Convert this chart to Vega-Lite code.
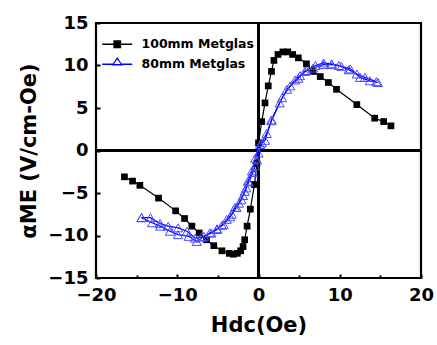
{
  "$schema": "https://vega.github.io/schema/vega-lite/v6.json",
  "width": 325,
  "height": 255,
  "autosize": {"type": "none"},
  "padding": {"left": 96, "top": 23, "right": 16, "bottom": 67},
  "background": "white",
  "config": {
    "view": {"stroke": "black", "strokeWidth": 2.2},
    "font": "DejaVu Sans",
    "axis": {
      "labelFont": "DejaVu Sans", "labelFontWeight": "bold", "labelFontSize": 18, "labelColor": "black",
      "titleFont": "DejaVu Sans", "titleFontWeight": "bold", "titleFontSize": 21, "titleColor": "black",
      "grid": false, "domain": false, "tickColor": "black", "tickWidth": 2, "labelFlush": false
    }
  },
  "data": {"values": [
    {"series": "100mm Metglas", "branch": "a", "i": 1, "H": -16.5, "alpha": -3.1},
    {"series": "100mm Metglas", "branch": "a", "i": 2, "H": -15.5, "alpha": -3.6},
    {"series": "100mm Metglas", "branch": "a", "i": 3, "H": -14.6, "alpha": -4.1},
    {"series": "100mm Metglas", "branch": "a", "i": 4, "H": -12.3, "alpha": -5.6},
    {"series": "100mm Metglas", "branch": "a", "i": 5, "H": -10.2, "alpha": -7.1},
    {"series": "100mm Metglas", "branch": "a", "i": 6, "H": -9.1, "alpha": -8.0},
    {"series": "100mm Metglas", "branch": "a", "i": 7, "H": -8.2, "alpha": -8.9},
    {"series": "100mm Metglas", "branch": "a", "i": 8, "H": -7.3, "alpha": -9.7},
    {"series": "100mm Metglas", "branch": "a", "i": 9, "H": -6.4, "alpha": -10.5},
    {"series": "100mm Metglas", "branch": "a", "i": 10, "H": -5.5, "alpha": -11.2},
    {"series": "100mm Metglas", "branch": "a", "i": 11, "H": -4.5, "alpha": -11.8},
    {"series": "100mm Metglas", "branch": "a", "i": 12, "H": -3.6, "alpha": -12.1},
    {"series": "100mm Metglas", "branch": "a", "i": 13, "H": -3.1, "alpha": -12.2},
    {"series": "100mm Metglas", "branch": "a", "i": 14, "H": -2.6, "alpha": -12.1},
    {"series": "100mm Metglas", "branch": "a", "i": 15, "H": -2.2, "alpha": -11.8},
    {"series": "100mm Metglas", "branch": "a", "i": 16, "H": -1.9, "alpha": -11.3},
    {"series": "100mm Metglas", "branch": "a", "i": 17, "H": -1.7, "alpha": -10.5},
    {"series": "100mm Metglas", "branch": "a", "i": 18, "H": -1.4, "alpha": -8.9},
    {"series": "100mm Metglas", "branch": "a", "i": 19, "H": -1.0, "alpha": -6.9},
    {"series": "100mm Metglas", "branch": "a", "i": 20, "H": -0.5, "alpha": -4.0},
    {"series": "100mm Metglas", "branch": "a", "i": 21, "H": -0.2, "alpha": -1.5},
    {"series": "100mm Metglas", "branch": "a", "i": 22, "H": 0.0, "alpha": 0.9},
    {"series": "100mm Metglas", "branch": "a", "i": 23, "H": 0.4, "alpha": 3.4},
    {"series": "100mm Metglas", "branch": "a", "i": 24, "H": 0.8, "alpha": 5.6},
    {"series": "100mm Metglas", "branch": "a", "i": 25, "H": 1.2, "alpha": 7.6},
    {"series": "100mm Metglas", "branch": "a", "i": 26, "H": 1.6, "alpha": 9.3},
    {"series": "100mm Metglas", "branch": "a", "i": 27, "H": 1.9, "alpha": 10.6},
    {"series": "100mm Metglas", "branch": "a", "i": 28, "H": 2.4, "alpha": 11.3},
    {"series": "100mm Metglas", "branch": "a", "i": 29, "H": 3.0, "alpha": 11.6},
    {"series": "100mm Metglas", "branch": "a", "i": 30, "H": 3.6, "alpha": 11.6},
    {"series": "100mm Metglas", "branch": "a", "i": 31, "H": 4.2, "alpha": 11.3},
    {"series": "100mm Metglas", "branch": "a", "i": 32, "H": 4.9, "alpha": 10.9},
    {"series": "100mm Metglas", "branch": "a", "i": 33, "H": 5.9, "alpha": 10.2},
    {"series": "100mm Metglas", "branch": "a", "i": 34, "H": 6.7, "alpha": 9.3},
    {"series": "100mm Metglas", "branch": "a", "i": 35, "H": 7.6, "alpha": 8.7},
    {"series": "100mm Metglas", "branch": "a", "i": 36, "H": 8.6, "alpha": 8.0},
    {"series": "100mm Metglas", "branch": "a", "i": 37, "H": 9.6, "alpha": 7.2},
    {"series": "100mm Metglas", "branch": "a", "i": 38, "H": 12.1, "alpha": 5.4},
    {"series": "100mm Metglas", "branch": "a", "i": 39, "H": 14.3, "alpha": 3.8},
    {"series": "100mm Metglas", "branch": "a", "i": 40, "H": 15.4, "alpha": 3.4},
    {"series": "100mm Metglas", "branch": "a", "i": 41, "H": 16.3, "alpha": 2.9},

    {"series": "80mm Metglas", "branch": "b", "i": 1, "H": 14.7, "alpha": 8.0},
    {"series": "80mm Metglas", "branch": "b", "i": 2, "H": 13.7, "alpha": 8.2},
    {"series": "80mm Metglas", "branch": "b", "i": 3, "H": 12.5, "alpha": 8.6},
    {"series": "80mm Metglas", "branch": "b", "i": 4, "H": 11.3, "alpha": 9.6},
    {"series": "80mm Metglas", "branch": "b", "i": 5, "H": 10.2, "alpha": 9.9},
    {"series": "80mm Metglas", "branch": "b", "i": 6, "H": 9.0, "alpha": 10.2},
    {"series": "80mm Metglas", "branch": "b", "i": 7, "H": 8.0, "alpha": 10.3},
    {"series": "80mm Metglas", "branch": "b", "i": 8, "H": 7.0, "alpha": 10.0},
    {"series": "80mm Metglas", "branch": "b", "i": 9, "H": 5.9, "alpha": 9.4},
    {"series": "80mm Metglas", "branch": "b", "i": 10, "H": 5.1, "alpha": 8.8},
    {"series": "80mm Metglas", "branch": "b", "i": 11, "H": 4.5, "alpha": 8.3},
    {"series": "80mm Metglas", "branch": "b", "i": 12, "H": 3.9, "alpha": 7.6},
    {"series": "80mm Metglas", "branch": "b", "i": 13, "H": 2.9, "alpha": 6.2},
    {"series": "80mm Metglas", "branch": "b", "i": 14, "H": 1.6, "alpha": 3.6},
    {"series": "80mm Metglas", "branch": "b", "i": 15, "H": 0.8, "alpha": 1.2},
    {"series": "80mm Metglas", "branch": "b", "i": 16, "H": 0.2, "alpha": 0.7},
    {"series": "80mm Metglas", "branch": "b", "i": 17, "H": -0.4, "alpha": -0.9},
    {"series": "80mm Metglas", "branch": "b", "i": 18, "H": -0.8, "alpha": -2.4},
    {"series": "80mm Metglas", "branch": "b", "i": 19, "H": -1.3, "alpha": -3.6},
    {"series": "80mm Metglas", "branch": "b", "i": 20, "H": -1.7, "alpha": -4.8},
    {"series": "80mm Metglas", "branch": "b", "i": 21, "H": -2.1, "alpha": -5.8},
    {"series": "80mm Metglas", "branch": "b", "i": 22, "H": -2.7, "alpha": -6.7},
    {"series": "80mm Metglas", "branch": "b", "i": 23, "H": -3.5, "alpha": -7.8},
    {"series": "80mm Metglas", "branch": "b", "i": 24, "H": -4.3, "alpha": -8.7},
    {"series": "80mm Metglas", "branch": "b", "i": 25, "H": -5.1, "alpha": -9.2},
    {"series": "80mm Metglas", "branch": "b", "i": 26, "H": -6.0, "alpha": -9.7},
    {"series": "80mm Metglas", "branch": "b", "i": 27, "H": -7.0, "alpha": -10.2},
    {"series": "80mm Metglas", "branch": "b", "i": 28, "H": -7.8, "alpha": -10.3},
    {"series": "80mm Metglas", "branch": "b", "i": 29, "H": -8.8, "alpha": -9.5},
    {"series": "80mm Metglas", "branch": "b", "i": 30, "H": -9.9, "alpha": -9.1},
    {"series": "80mm Metglas", "branch": "b", "i": 31, "H": -11.1, "alpha": -8.9},
    {"series": "80mm Metglas", "branch": "b", "i": 32, "H": -12.1, "alpha": -8.6},
    {"series": "80mm Metglas", "branch": "b", "i": 33, "H": -13.3, "alpha": -7.9},
    {"series": "80mm Metglas", "branch": "b", "i": 34, "H": -14.4, "alpha": -7.9},

    {"series": "80mm Metglas", "branch": "c", "i": 1, "H": -14.4, "alpha": -7.9},
    {"series": "80mm Metglas", "branch": "c", "i": 2, "H": -13.1, "alpha": -8.5},
    {"series": "80mm Metglas", "branch": "c", "i": 3, "H": -12.1, "alpha": -8.9},
    {"series": "80mm Metglas", "branch": "c", "i": 4, "H": -10.9, "alpha": -9.5},
    {"series": "80mm Metglas", "branch": "c", "i": 5, "H": -9.9, "alpha": -9.9},
    {"series": "80mm Metglas", "branch": "c", "i": 6, "H": -8.6, "alpha": -10.1},
    {"series": "80mm Metglas", "branch": "c", "i": 7, "H": -7.6, "alpha": -10.7},
    {"series": "80mm Metglas", "branch": "c", "i": 8, "H": -6.7, "alpha": -10.1},
    {"series": "80mm Metglas", "branch": "c", "i": 9, "H": -5.8, "alpha": -9.7},
    {"series": "80mm Metglas", "branch": "c", "i": 10, "H": -5.1, "alpha": -9.3},
    {"series": "80mm Metglas", "branch": "c", "i": 11, "H": -4.5, "alpha": -8.8},
    {"series": "80mm Metglas", "branch": "c", "i": 12, "H": -3.9, "alpha": -8.1},
    {"series": "80mm Metglas", "branch": "c", "i": 13, "H": -3.3, "alpha": -7.5},
    {"series": "80mm Metglas", "branch": "c", "i": 14, "H": -2.9, "alpha": -6.7},
    {"series": "80mm Metglas", "branch": "c", "i": 15, "H": -2.4, "alpha": -6.2},
    {"series": "80mm Metglas", "branch": "c", "i": 16, "H": -1.9, "alpha": -5.3},
    {"series": "80mm Metglas", "branch": "c", "i": 17, "H": -1.5, "alpha": -4.4},
    {"series": "80mm Metglas", "branch": "c", "i": 18, "H": -1.2, "alpha": -3.7},
    {"series": "80mm Metglas", "branch": "c", "i": 19, "H": -0.7, "alpha": -2.6},
    {"series": "80mm Metglas", "branch": "c", "i": 20, "H": -0.4, "alpha": -1.8},
    {"series": "80mm Metglas", "branch": "c", "i": 21, "H": -0.2, "alpha": -1.1},
    {"series": "80mm Metglas", "branch": "c", "i": 22, "H": 0.0, "alpha": -0.3},
    {"series": "80mm Metglas", "branch": "c", "i": 23, "H": 0.4, "alpha": 0.9},
    {"series": "80mm Metglas", "branch": "c", "i": 24, "H": 1.0, "alpha": 2.0},
    {"series": "80mm Metglas", "branch": "c", "i": 25, "H": 1.6, "alpha": 3.5},
    {"series": "80mm Metglas", "branch": "c", "i": 26, "H": 2.6, "alpha": 5.6},
    {"series": "80mm Metglas", "branch": "c", "i": 27, "H": 3.5, "alpha": 7.2},
    {"series": "80mm Metglas", "branch": "c", "i": 28, "H": 4.9, "alpha": 8.5},
    {"series": "80mm Metglas", "branch": "c", "i": 29, "H": 5.7, "alpha": 9.3},
    {"series": "80mm Metglas", "branch": "c", "i": 30, "H": 6.7, "alpha": 9.7},
    {"series": "80mm Metglas", "branch": "c", "i": 31, "H": 8.0, "alpha": 10.1},
    {"series": "80mm Metglas", "branch": "c", "i": 32, "H": 9.0, "alpha": 10.1},
    {"series": "80mm Metglas", "branch": "c", "i": 33, "H": 9.9, "alpha": 10.0},
    {"series": "80mm Metglas", "branch": "c", "i": 34, "H": 11.1, "alpha": 9.5},
    {"series": "80mm Metglas", "branch": "c", "i": 35, "H": 12.1, "alpha": 9.0},
    {"series": "80mm Metglas", "branch": "c", "i": 36, "H": 13.1, "alpha": 8.6},
    {"series": "80mm Metglas", "branch": "c", "i": 37, "H": 14.5, "alpha": 8.1}
  ]},
  "resolve": {"axis": {"x": "independent"}},
  "layer": [
    {
      "mark": {"type": "rule", "color": "black", "strokeWidth": 2.2},
      "encoding": {
        "x": {"datum": 0, "type": "quantitative", "scale": {"domain": [-20, 20], "nice": false, "zero": false},
          "axis": {"orient": "bottom", "values": [-15, -5, 5, 15], "tickSize": -3, "labels": false, "title": null}}
      }
    },
    {
      "mark": {"type": "rule", "color": "black", "strokeWidth": 2.2},
      "encoding": {
        "y": {"datum": 0, "type": "quantitative", "scale": {"domain": [-15, 15], "nice": false, "zero": false},
          "axis": {"values": [-15, -10, -5, 0, 5, 10, 15], "tickSize": -4, "labelPadding": 12, "title": "αME (V/cm-Oe)", "titlePadding": 8}}
      }
    },
    {
      "mark": {"type": "line", "strokeWidth": 1.2},
      "encoding": {
        "x": {"field": "H", "type": "quantitative", "scale": {"domain": [-20, 20], "nice": false, "zero": false},
          "axis": {"orient": "bottom", "values": [-20, -10, 0, 10, 20], "tickSize": -4, "labelPadding": 12, "title": "Hdc(Oe)", "titlePadding": 10}},
        "y": {"field": "alpha", "type": "quantitative",
          "axis": {"values": [-15, -10, -5, 0, 5, 10, 15], "tickSize": -4, "labelPadding": 12, "title": "αME (V/cm-Oe)", "titlePadding": 8}},
        "color": {"field": "series", "type": "nominal",
          "scale": {"domain": ["100mm Metglas", "80mm Metglas"], "range": ["black", "blue"]},
          "legend": {
            "orient": "top-left", "title": null, "offset": 15,
            "labelFont": "DejaVu Sans", "labelFontWeight": "bold", "labelFontSize": 12.5, "labelColor": "black",
            "symbolSize": 100, "labelOffset": 18, "rowPadding": 4, "symbolStrokeWidth": 1.3, "symbolOpacity": 1
          }},
        "detail": {"field": "branch"},
        "order": {"field": "i", "type": "quantitative"}
      }
    },
    {
      "transform": [{"filter": "datum.series === 'none'"}],
      "mark": {"type": "point", "opacity": 1, "strokeWidth": 1.3},
      "encoding": {
        "x": {"field": "H", "type": "quantitative", "axis": null},
        "y": {"field": "alpha", "type": "quantitative"},
        "shape": {"field": "series", "type": "nominal", "scale": {"domain": ["100mm Metglas", "80mm Metglas"], "range": ["M-3,0H3M-0.65,-0.65H0.65V0.65H-0.65Z", "M-3,0H-0.9M0.9,0H3M0,-1.2L0.9,0.1H-0.9Z"]}, "legend": null},
        "fill": {"field": "series", "type": "nominal", "scale": {"domain": ["100mm Metglas", "80mm Metglas"], "range": ["black", "white"]}, "legend": null},
        "stroke": {"field": "series", "type": "nominal", "scale": {"domain": ["100mm Metglas", "80mm Metglas"], "range": ["black", "#3c3cff"]}, "legend": null}
      }
    },
    {
      "transform": [{"filter": "datum.series === '100mm Metglas'"}],
      "mark": {"type": "point", "shape": "square", "filled": true, "color": "black", "opacity": 1, "size": 45},
      "encoding": {
        "x": {"field": "H", "type": "quantitative", "axis": null},
        "y": {"field": "alpha", "type": "quantitative"}
      }
    },
    {
      "transform": [{"filter": "datum.series === '80mm Metglas'"}],
      "mark": {"type": "point", "shape": "triangle-up", "filled": false, "stroke": "#4a4aff", "fill": null, "opacity": 1, "size": 85, "strokeWidth": 1},
      "encoding": {
        "x": {"field": "H", "type": "quantitative", "axis": null},
        "y": {"field": "alpha", "type": "quantitative"}
      }
    }
  ]
}
